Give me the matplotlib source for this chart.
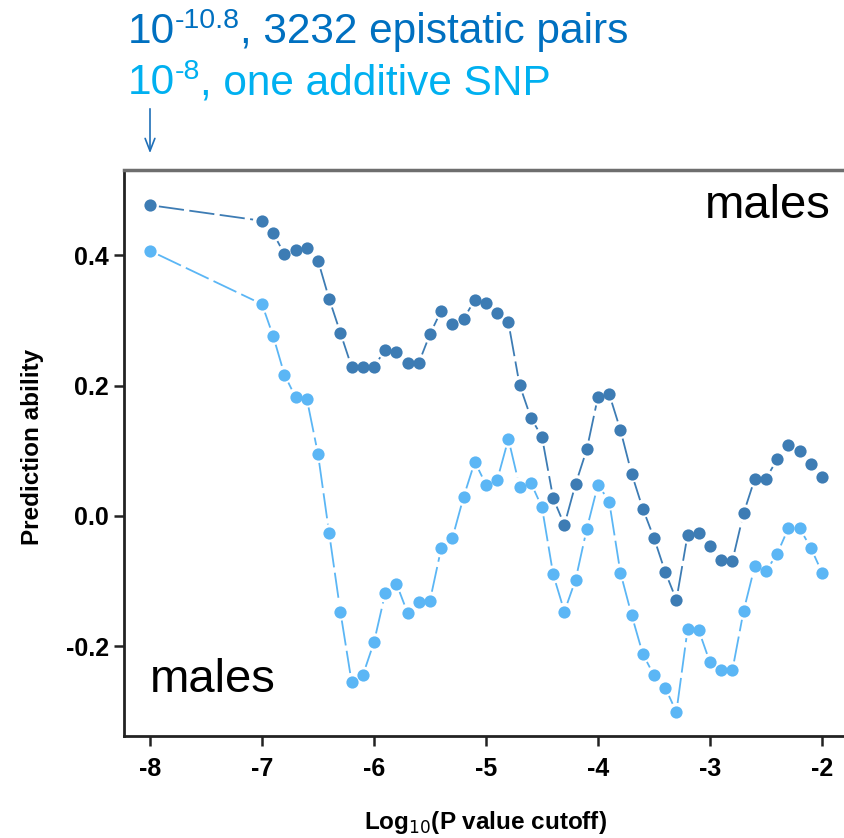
import numpy as np
import matplotlib
matplotlib.use("Agg")
import matplotlib.pyplot as plt

plt.rcParams['font.family'] = ['Liberation Sans', 'DejaVu Sans']
plt.rcParams['axes.unicode_minus'] = False

# log10 p-value cutoffs: -8, then -7 .. -2 in steps of 0.1
cutoff = [-8.0] + [round(-7.0 + 0.1 * i, 1) for i in range(51)]

# prediction ability, epistatic pairs model
epistatic = [0.477,
             0.453, 0.434, 0.402, 0.408, 0.412, 0.392, 0.333, 0.281, 0.229, 0.229,
             0.229, 0.255, 0.251, 0.235, 0.235, 0.279, 0.315, 0.294, 0.302, 0.332,
             0.327, 0.312, 0.297, 0.201, 0.151, 0.121, 0.027, -0.014, 0.049, 0.102,
             0.183, 0.187, 0.132, 0.065, 0.011, -0.034, -0.086, -0.129, -0.029, -0.026,
             -0.046, -0.068, -0.069, 0.004, 0.057, 0.057, 0.087, 0.109, 0.099, 0.080,
             0.060]

# prediction ability, additive SNP model
additive = [0.407,
            0.325, 0.276, 0.217, 0.182, 0.180, 0.095, -0.027, -0.147, -0.255, -0.245,
            -0.194, -0.119, -0.104, -0.149, -0.133, -0.130, -0.050, -0.034, 0.029, 0.083,
            0.048, 0.055, 0.118, 0.045, 0.051, 0.013, -0.090, -0.147, -0.098, -0.020,
            0.048, 0.022, -0.087, -0.152, -0.212, -0.245, -0.264, -0.301, -0.174, -0.176,
            -0.225, -0.236, -0.237, -0.146, -0.077, -0.085, -0.058, -0.019, -0.019, -0.049,
            -0.087]

xticks = [-8, -7, -6, -5, -4, -3, -2]
yticks = [-0.2, 0.0, 0.2, 0.4]

dark = '#3d7cb4'
light = '#5bb6f5'

W, H = 844, 838
fig = plt.figure(figsize=(W / 100, H / 100), dpi=100)
ax = fig.add_axes([124 / W, 1 - 736 / H, (850 - 124) / W, (736 - 170) / H])
ax.set_xlim(-8.232, -1.75)
ax.set_ylim(-0.338, 0.531)
fig.canvas.draw()


def gapped_line(x, y, color, gap=9):
    # lines broken around each point, like R's type="b"
    pts = ax.transData.transform(np.column_stack([x, y]))
    xs, ys = [], []
    for i in range(len(x) - 1):
        d = pts[i + 1] - pts[i]
        L = np.hypot(*d)
        if L <= 2 * gap + 1:
            continue
        f = gap / L
        xs += [x[i] + f * (x[i + 1] - x[i]), x[i + 1] - f * (x[i + 1] - x[i]), np.nan]
        ys += [y[i] + f * (y[i + 1] - y[i]), y[i + 1] - f * (y[i + 1] - y[i]), np.nan]
    ax.plot(xs, ys, color=color, lw=1.3, ls=(0, (14, 3)), zorder=2)
    ax.plot(x, y, 'o', color=color, ms=8.8, mew=0, zorder=3)


gapped_line(cutoff, epistatic, dark)
gapped_line(cutoff, additive, light)

for side in ['left', 'bottom']:
    ax.spines[side].set_linewidth(2)
    ax.spines[side].set_color('#222222')
ax.spines['top'].set_linewidth(2.5)
ax.spines['top'].set_color('#6e6e6e')
ax.spines['right'].set_visible(False)

tick_font = dict(weight='bold', size=18)
ax.set_xticks(xticks)
ax.set_xticklabels(['%d' % t for t in xticks], **tick_font)
ax.set_yticks(yticks)
ax.set_yticklabels(['%.1f' % t for t in yticks], **tick_font)
ax.tick_params(direction='out', length=7, width=1.8, color='#222222')
ax.tick_params(axis='x', pad=8)
ax.tick_params(axis='y', pad=4)

fig.text(485 / W, 1 - 822 / H, r'Log$_{10}$(P value cutoff)', ha='center', va='center',
         weight='bold', size=17.5)
fig.text(33 / W, 1 - 447 / H, 'Prediction ability', ha='center', va='center', rotation=90,
         weight='bold', size=17.5)

fig.text(705 / W, 1 - 218 / H, 'males', size=34, color='black', va='baseline')
fig.text(150 / W, 1 - 692 / H, 'males', size=34, color='black', va='baseline')

# header lines with superscripted cutoffs
renderer = fig.canvas.get_renderer()


def header(x, base, pieces, color):
    for txt, size, rise in pieces:
        t = fig.text(x / W, 1 - (base - rise) / H, txt, size=size, color=color, va='baseline')
        bb = t.get_window_extent(renderer)
        x += bb.width


header(128, 43, [('10', 30.5, 0), ('-10.8', 20.5, 15), (', 3232 epistatic pairs', 30.5, 0)], '#0070c0')
header(128, 94, [('10', 30.5, 0), ('-8', 20.5, 15), (', one additive SNP', 30.5, 0)], '#00b0f0')

ax.annotate('', xy=(150 / W, 1 - 156 / H), xytext=(150 / W, 1 - 106 / H),
            xycoords='figure fraction', textcoords='figure fraction',
            arrowprops=dict(arrowstyle='->,head_length=0.9,head_width=0.35',
                            color='#1f6fb8', lw=1.2))

fig.savefig('out.png', dpi=100)
